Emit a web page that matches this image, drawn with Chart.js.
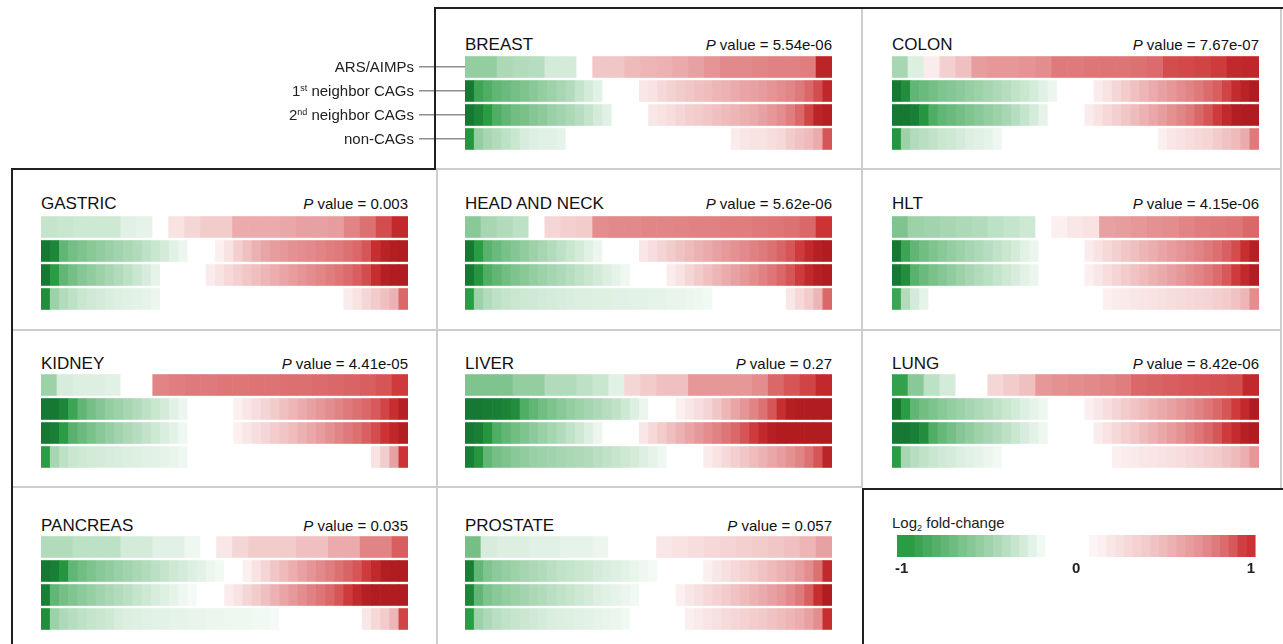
<!DOCTYPE html>
<html lang="en">
<head>
<meta charset="utf-8">
<title>Log2 fold-change of ARS/AIMPs and CAGs across tissues</title>
<script src="https://cdn.jsdelivr.net/npm/chart.js@4.4.1/dist/chart.umd.min.js"></script>
<style>
  html, body { margin:0; padding:0; background:#fff; }
  body { position:relative; width:1283px; height:644px; overflow:hidden;
         font-family:"Liberation Sans", Arial, Helvetica, sans-serif; color:#1a1a1a; }
  .rule { position:absolute; z-index:3; }
  .rule.dark { background:#202020; }
  .rule.light { background:#cdcdcd; }
  .plot { position:absolute; z-index:1; }
  .head { position:absolute; z-index:2; display:flex; justify-content:space-between;
          align-items:baseline; white-space:nowrap; }
  .head .name { font-size:17px; line-height:16px; color:#111; }
  .head .pval { font-size:15px; line-height:16px; color:#111; }
  .rowlab { position:absolute; z-index:2; right:869px; font-size:15px; line-height:16px;
            white-space:nowrap; text-align:right; color:#222; }
  .rowlab sup { font-size:9px; line-height:0; vertical-align:5px; }
  .cbtitle { position:absolute; z-index:2; left:892px; top:515px; font-size:15px;
             line-height:16px; white-space:nowrap; color:#222; }
  .cbtitle sub { font-size:9px; line-height:0; vertical-align:-3px; }
</style>
</head>
<body>
<script>
// ---- gene groups (rows of every tissue strip) ----
const rowNames = ['ARS/AIMPs', '1st neighbor CAGs', '2nd neighbor CAGs', 'non-CAGs'];
const rowLabelHtml = ['ARS/AIMPs', '1<sup>st</sup> neighbor CAGs', '2<sup>nd</sup> neighbor CAGs', 'non-CAGs'];

// ---- tissues and their P values ----
const tissues = ['BREAST', 'COLON', 'GASTRIC', 'HEAD AND NECK', 'HLT',
                 'KIDNEY', 'LIVER', 'LUNG', 'PANCREAS', 'PROSTATE'];
const pValues = ['5.54e-06', '7.67e-07', '0.003', '5.62e-06', '4.15e-06',
                 '4.41e-05', '0.27', '8.42e-06', '0.035', '0.057'];

// ---- log2 fold-change x100, genes sorted from lowest to highest ----
const breastArs    = [-45,-45,-33,-30,-28,-15,-15,0,22,22,28,30,32,36,40,46,52,52,54,56,56,58,130];
const breastFirst  = [-150,-90,-80,-70,-65,-60,-55,-50,-45,-40,-35,-30,-22,-15,-10,0,0,0,0,8,10,14,17,20,22,25,27,30,32,35,38,40,43,46,50,54,60,70,85,125];
const breastSecond = [-150,-130,-100,-80,-70,-62,-58,-52,-48,-42,-38,-33,-28,-22,-15,-10,0,0,0,0,8,10,12,15,18,20,22,25,28,30,33,36,40,45,50,58,70,90,130,140];
const breastNon    = [-110,-45,-35,-30,-25,-20,-14,-12,-10,-10,-8,0,0,0,0,0,0,0,0,0,0,0,0,0,0,0,0,0,0,6,8,10,10,12,14,20,24,28,35,80];

const colonArs    = [-35,-12,6,18,25,42,45,45,47,50,60,60,62,63,63,65,68,85,87,90,95,120,125];
const colonFirst  = [-150,-120,-70,-65,-60,-55,-52,-48,-44,-40,-36,-32,-28,-24,-20,-15,-10,-6,0,0,0,0,6,10,15,20,25,30,35,40,45,50,55,60,68,75,90,115,135,150];
const colonSecond = [-160,-150,-140,-110,-80,-70,-65,-60,-55,-50,-45,-40,-35,-28,-22,-15,-8,0,0,0,0,6,10,14,18,22,27,32,37,42,48,54,60,70,80,95,120,145,155,160];
const colonNon    = [-110,-40,-30,-27,-24,-20,-18,-15,-12,-10,-8,-5,0,0,0,0,0,0,0,0,0,0,0,0,0,0,0,0,0,5,8,10,12,14,16,20,24,28,35,60];

const gastricArs    = [-22,-20,-18,-18,-18,-10,-8,0,10,15,20,20,35,35,35,37,40,40,42,55,65,85,120];
const gastricFirst  = [-150,-130,-70,-60,-55,-50,-46,-42,-38,-34,-30,-25,-20,-15,-10,-6,0,0,0,5,10,18,25,32,38,42,45,48,50,52,55,58,60,65,70,80,110,135,145,150];
const gastricSecond = [-150,-100,-70,-60,-52,-46,-40,-35,-30,-25,-20,-14,-8,0,0,0,0,0,6,10,14,18,22,26,30,34,38,42,46,50,54,58,62,68,75,85,110,140,150,150];
const gastricNon    = [-120,-40,-30,-25,-20,-17,-15,-13,-11,-10,-9,-8,-6,0,0,0,0,0,0,0,0,0,0,0,0,0,0,0,0,0,0,0,0,6,10,15,20,25,32,70];

const headArs    = [-50,-35,-30,-25,0,15,18,20,50,52,52,54,54,55,56,56,58,58,60,62,65,70,100];
const headFirst  = [-150,-100,-75,-65,-58,-52,-46,-40,-35,-30,-25,-20,-15,-10,-6,0,0,0,0,8,12,16,20,24,28,32,36,40,44,48,52,56,60,65,72,80,95,120,140,150];
const headSecond = [-150,-110,-80,-70,-62,-55,-50,-45,-40,-36,-32,-28,-24,-20,-16,-12,-8,-5,0,0,0,0,6,10,15,20,25,30,35,40,45,50,56,62,70,80,95,120,140,150];
const headNon    = [-100,-40,-30,-25,-22,-20,-18,-17,-16,-15,-14,-13,-12,-12,-11,-11,-10,-10,-9,-9,-8,-8,-7,-7,-6,-5,-4,0,0,0,0,0,0,0,0,8,14,20,30,70];

const hltArs    = [-55,-40,-38,-35,-32,-30,-25,-22,-18,0,5,8,10,40,42,45,48,50,55,58,60,62,70];
const hltFirst  = [-150,-90,-70,-62,-55,-50,-45,-40,-36,-32,-28,-24,-20,-15,-10,-6,0,0,0,0,0,6,10,14,18,22,26,30,34,38,42,46,50,55,60,66,74,85,110,140];
const hltSecond = [-150,-120,-75,-65,-58,-52,-46,-40,-35,-30,-26,-22,-18,-14,-10,-6,0,0,0,0,0,5,8,12,16,20,24,28,32,36,40,45,50,55,60,68,78,95,120,145];
const hltNon    = [-90,-30,-15,-8,0,0,0,0,0,0,0,0,0,0,0,0,0,0,0,0,0,0,0,5,6,7,8,9,10,11,12,13,14,15,16,18,20,24,30,50];

const kidneyArs    = [-40,-14,-12,-12,-10,0,0,55,58,60,60,62,62,64,64,66,66,68,70,72,75,80,95];
const kidneyFirst  = [-160,-150,-130,-90,-70,-60,-52,-45,-40,-35,-30,-25,-20,-15,-10,-6,0,0,0,0,0,5,8,12,16,20,25,30,35,40,45,50,55,60,65,70,78,90,110,140];
const kidneySecond = [-160,-140,-100,-75,-65,-58,-50,-44,-38,-33,-28,-23,-18,-13,-9,-5,0,0,0,0,0,5,8,12,15,19,23,27,32,37,42,48,54,60,66,74,85,100,125,145];
const kidneyNon    = [-100,-35,-25,-20,-18,-16,-15,-14,-13,-12,-11,-10,-9,-8,-7,-5,0,0,0,0,0,0,0,0,0,0,0,0,0,0,0,0,0,0,0,0,10,20,40,100];

const liverArs    = [-55,-55,-55,-45,-45,-30,-30,-25,-20,-10,15,20,25,25,45,45,45,45,50,70,80,90,120];
const liverFirst  = [-150,-150,-145,-140,-135,-120,-80,-70,-62,-56,-50,-45,-40,-36,-32,-28,-24,-18,-12,-6,0,0,0,5,8,12,16,22,30,38,46,55,65,80,110,140,150,150,155,160];
const liverSecond = [-150,-140,-110,-80,-70,-62,-55,-48,-42,-36,-30,-24,-18,-12,-6,0,0,0,0,8,14,20,26,32,38,44,50,56,62,70,80,95,120,140,150,155,160,160,160,160];
const liverNon    = [-140,-110,-70,-60,-55,-50,-46,-42,-40,-38,-36,-34,-32,-30,-27,-24,-21,-18,-15,-12,-8,-5,0,0,0,0,6,10,14,18,22,27,32,37,42,48,55,65,80,130];

const lungArs    = [-95,-50,-25,-15,0,0,15,20,25,45,48,50,52,55,58,70,72,75,78,80,82,85,120];
const lungFirst  = [-150,-100,-70,-62,-56,-50,-45,-40,-36,-32,-28,-24,-20,-16,-12,-8,-5,0,0,0,0,5,8,12,16,20,24,28,32,36,40,45,50,56,62,70,80,95,120,150];
const lungSecond = [-160,-150,-140,-120,-80,-68,-60,-52,-46,-40,-35,-30,-25,-20,-14,-9,-5,0,0,0,0,0,6,10,14,18,22,27,32,37,42,48,55,62,70,80,95,115,140,150];
const lungNon    = [-100,-35,-28,-24,-20,-17,-15,-12,-10,-8,-6,-4,0,0,0,0,0,0,0,0,0,0,0,0,5,6,7,8,9,10,11,12,14,16,18,20,24,28,34,45];

const pancreasArs    = [-30,-30,-25,-25,-25,-15,-15,-10,-10,-5,0,8,15,20,20,20,25,25,35,35,55,55,75];
const pancreasFirst  = [-150,-140,-110,-70,-62,-56,-50,-46,-42,-38,-34,-30,-26,-22,-18,-15,-12,-9,-6,-4,0,0,5,10,16,22,28,34,40,46,52,58,65,72,80,95,120,145,150,150];
const pancreasSecond = [-140,-70,-60,-54,-48,-43,-38,-34,-30,-26,-22,-18,-14,-11,-8,-5,-3,0,0,0,6,10,15,20,26,32,38,44,50,56,62,70,80,95,120,140,150,155,160,160];
const pancreasNon    = [-120,-40,-32,-28,-25,-22,-20,-18,-14,-12,-11,-10,-9,-9,-8,-8,-7,-7,-6,-6,-5,-5,-5,-4,-4,-3,0,0,0,0,0,0,0,0,0,8,14,20,30,90];

const prostateArs    = [-60,-14,-12,-12,-10,-10,-8,-8,-6,0,0,0,8,10,12,14,16,18,20,22,25,30,40];
const prostateFirst  = [-140,-70,-55,-48,-44,-40,-36,-33,-30,-27,-24,-22,-20,-18,-15,-13,-11,-9,-7,-5,-3,0,0,0,0,0,5,8,11,14,17,20,24,28,32,36,42,50,65,120];
const prostateSecond = [-130,-70,-56,-50,-45,-41,-37,-33,-30,-27,-24,-21,-18,-15,-12,-10,-8,-6,-4,0,0,0,0,5,8,11,14,17,20,24,28,32,36,40,45,52,60,75,110,150];
const prostateNon    = [-100,-40,-32,-27,-24,-21,-19,-17,-15,-13,-12,-11,-10,-9,-8,-7,-6,-4,0,0,0,0,0,0,5,7,9,11,13,15,17,19,21,24,27,30,34,40,50,110];

// ---- colour key: cell centres on the log2 axis and the shade drawn there (x100) ----
const scaleStops = [-1,-0.95,-0.9,-0.85,-0.8,-0.75,-0.7,-0.65,-0.6,-0.55,-0.5,-0.45,-0.4,-0.35,-0.3,-0.25,-0.2,
                    -0.15,-0.1,-0.05,0,0.05,
                    0.1,0.15,0.2,0.25,0.3,0.35,0.4,0.45,0.5,0.55,0.6,0.65,0.7,0.75,0.8,0.85,0.9,0.95,1];
const scaleShade = [-100,-100,-92,-84,-77,-70,-63,-57,-51,-45,-39,-33,-27,-21,-15,-9,-4,
                    0,0,0,0,0,
                    3,5,8,11,14,17,20,24,28,32,37,42,47,53,60,68,78,92,100];
const scaleTicks = [-1, 0, 1];

const tissueRows = [
  [breastArs, breastFirst, breastSecond, breastNon],
  [colonArs, colonFirst, colonSecond, colonNon],
  [gastricArs, gastricFirst, gastricSecond, gastricNon],
  [headArs, headFirst, headSecond, headNon],
  [hltArs, hltFirst, hltSecond, hltNon],
  [kidneyArs, kidneyFirst, kidneySecond, kidneyNon],
  [liverArs, liverFirst, liverSecond, liverNon],
  [lungArs, lungFirst, lungSecond, lungNon],
  [pancreasArs, pancreasFirst, pancreasSecond, pancreasNon],
  [prostateArs, prostateFirst, prostateSecond, prostateNon]
];

// ---- colour scale: white at 0, green for down, red for up, deeper past |1| ----
const GREEN = [42, 156, 68], GREEN_DEEP = [22, 120, 50];
const RED = [205, 50, 52], RED_DEEP = [176, 28, 32];
function shade(v) {
  const a = Math.abs(v);
  const c1 = v < 0 ? GREEN : RED, c2 = v < 0 ? GREEN_DEEP : RED_DEEP;
  let rgb;
  if (a <= 1) {
    const t = Math.pow(a, 0.85);
    rgb = c1.map(c => Math.round(255 + (c - 255) * t));
  } else {
    const t = Math.min(1, (a - 1) / 0.5);
    rgb = c1.map((c, k) => Math.round(c + (c2[k] - c) * t));
  }
  return 'rgb(' + rgb.join(',') + ')';
}

// ---- page geometry ----
const COL_LEFT = [41, 465, 892];
const STRIP_W = 367;
const STRIP_TOP = [55, 215, 373, 535];
const HEAD_TOP = [37, 196, 356, 518];
const SLOT = [[0,1],[0,2],[1,0],[1,1],[1,2],[2,0],[2,1],[2,2],[3,0],[3,1]];
const AXIS_W = 175;   // room left of BREAST for the group tick marks

Chart.defaults.font.family = '"Liberation Sans", Arial, sans-serif';
Chart.defaults.color = '#222';

function el(tag, cls, css, html) {
  const d = document.createElement(tag);
  if (cls) d.className = cls;
  Object.assign(d.style, css || {});
  if (html !== undefined) d.innerHTML = html;
  document.body.appendChild(d);
  return d;
}

function stripPoints(rows) {
  const pts = [];
  rows.forEach((vals, r) => {
    const n = vals.length;
    vals.forEach((v, i) => pts.push({ x: [i / n, (i + 1) / n], y: rowNames[r], v: v / 100 }));
  });
  return pts;
}

tissues.forEach((name, p) => {
  const [r, c] = SLOT[p];
  const withAxis = p === 0;
  const left = COL_LEFT[c] - (withAxis ? AXIS_W : 0);
  const width = STRIP_W + (withAxis ? AXIS_W : 0);

  const head = el('div', 'head', { left: COL_LEFT[c] + 'px', top: HEAD_TOP[r] + 'px', width: STRIP_W + 'px' });
  head.innerHTML = '<span class="name">' + name + '</span><span class="pval"><i>P</i> value = ' + pValues[p] + '</span>';

  const box = el('div', 'plot', { left: left + 'px', top: STRIP_TOP[r] + 'px', width: width + 'px', height: '96px' });
  const cv = document.createElement('canvas');
  box.appendChild(cv);

  const pts = stripPoints(tissueRows[p]);
  const chart = new Chart(cv, {
    type: 'bar',
    data: {
      labels: rowNames,
      datasets: [{
        data: pts,
        backgroundColor: pts.map(q => shade(q.v)),
        borderWidth: 0,
        barPercentage: 0.875,
        categoryPercentage: 1,
        inflateAmount: 0.3
      }]
    },
    options: {
      indexAxis: 'y',
      responsive: true,
      maintainAspectRatio: false,
      animation: false,
      devicePixelRatio: 1,
      events: [],
      layout: { padding: 0 },
      plugins: { legend: { display: false }, tooltip: { enabled: false } },
      scales: {
        x: { type: 'linear', min: 0, max: 1, display: false },
        y: withAxis ? {
          type: 'category',
          display: true,
          position: 'left',
          border: { display: false },
          grid: { display: true, drawOnChartArea: false, drawTicks: true, tickLength: 46,
                  offset: false, color: '#8f8f8f', lineWidth: 1.4 },
          ticks: { display: false },
          afterFit(s) { s.width = AXIS_W; }
        } : { type: 'category', display: false }
      }
    }
  });

  if (withAxis) {
    const ys = chart.scales.y;
    rowNames.forEach((_, i) => {
      const cy = STRIP_TOP[r] + ys.getPixelForTick(i);
      el('div', 'rowlab', { top: (cy - 8) + 'px' }, rowLabelHtml[i]);
    });
  }
});

// ---- colour key ----
el('div', 'cbtitle', {}, 'Log<sub>2</sub> fold-change');
const keyBox = el('div', 'plot', { left: '892px', top: '535px', width: '366px', height: '44px' });
const keyCv = document.createElement('canvas');
keyBox.appendChild(keyCv);
new Chart(keyCv, {
  type: 'bar',
  data: {
    labels: ['key'],
    datasets: [{
      data: scaleStops.map(s => ({ x: [s - 0.025, s + 0.025], y: 'key' })),
      backgroundColor: scaleShade.map(v => shade(v / 100)),
      borderWidth: 0,
      barPercentage: 1,
      categoryPercentage: 1,
      inflateAmount: 0.3
    }]
  },
  options: {
    indexAxis: 'y',
    responsive: true,
    maintainAspectRatio: false,
    animation: false,
    devicePixelRatio: 1,
    events: [],
    layout: { padding: 0 },
    plugins: { legend: { display: false }, tooltip: { enabled: false } },
    scales: {
      x: {
        type: 'linear', min: -1.03, max: 1.03, position: 'bottom',
        grid: { display: false, drawTicks: false },
        border: { display: false },
        afterBuildTicks(s) { s.ticks = scaleTicks.map(v => ({ value: v })); },
        ticks: { padding: 3, autoSkip: false, maxRotation: 0, color: '#222',
                 font: { size: 15, weight: 'bold' }, callback: v => String(v) },
        afterFit(s) { s.height = 22; }
      },
      y: { type: 'category', display: false }
    }
  }
});

// ---- panel frame: dark outline and light inner dividers ----
const darkRules = [
  [435, 7, 848, 2], [434, 7, 2, 163], [11, 168, 425, 2], [11, 168, 2, 476],
  [862, 488, 421, 2], [862, 488, 2, 156]
];
const lightRules = [
  [436, 168, 845, 2], [13, 329, 1269, 2], [13, 486, 849, 2],
  [436, 170, 2, 474], [861, 9, 2, 479], [1280, 9, 2, 479]
];
lightRules.forEach(([x, y, w, h]) => el('div', 'rule light', { left: x + 'px', top: y + 'px', width: w + 'px', height: h + 'px' }));
darkRules.forEach(([x, y, w, h]) => el('div', 'rule dark', { left: x + 'px', top: y + 'px', width: w + 'px', height: h + 'px' }));
</script>
</body>
</html>
